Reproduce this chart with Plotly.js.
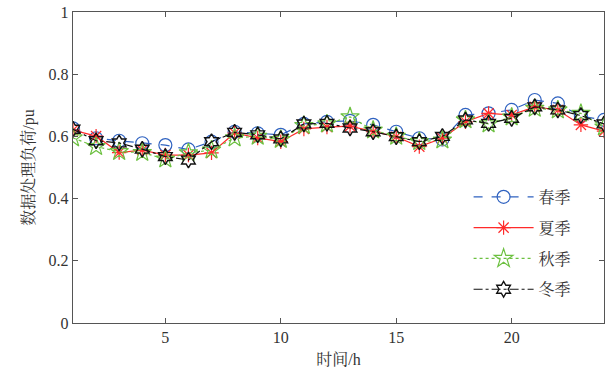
<!DOCTYPE html>
<html><head><meta charset="utf-8">
<script src="https://cdn.plot.ly/plotly-3.0.1.min.js"></script>
<style>html,body{margin:0;padding:0;background:#fff}#chart{width:606px;height:378px}</style>
</head><body><div id="chart"></div>
<script>
const hours = [1,2,3,4,5,6,7,8,9,10,11,12,13,14,15,16,17,18,19,20,21,22,23,24];
const seasonNames = ['春季','夏季','秋季','冬季'];
const spring = [0.626,0.594,0.586,0.578,0.572,0.558,0.583,0.615,0.610,0.605,0.640,0.647,0.650,0.637,0.615,0.594,0.590,0.669,0.674,0.685,0.717,0.706,0.665,0.653];
const summer = [0.620,0.601,0.548,0.556,0.540,0.540,0.547,0.611,0.595,0.583,0.624,0.630,0.633,0.615,0.599,0.567,0.594,0.647,0.674,0.669,0.695,0.685,0.637,0.617];
const autumn = [0.595,0.567,0.551,0.548,0.527,0.547,0.556,0.595,0.600,0.590,0.635,0.640,0.663,0.620,0.600,0.583,0.588,0.653,0.640,0.662,0.690,0.685,0.674,0.630];
const winter = [0.623,0.586,0.579,0.559,0.535,0.524,0.583,0.613,0.605,0.592,0.640,0.642,0.627,0.615,0.599,0.583,0.600,0.653,0.642,0.658,0.695,0.685,0.667,0.640];
const yTicks = [0,0.2,0.4,0.6,0.8,1];
const xTicks = [5,10,15,20];

const FONT = '"Liberation Serif", "Times New Roman", "Noto Serif CJK SC", "Noto Sans CJK SC", serif';

function tr(y, name, color, dash, symbol, size, lw, grp){
  return {x: hours, y: y, name: name, type:'scatter', mode:'lines+markers',
    legendgroup: grp,
    line:{color:color, width:1.2, dash:dash},
    marker:{symbol:symbol, size:size, color:color, line:{color:color, width:lw}}};
}
const data = [
  tr(spring, seasonNames[0], '#2f62c0', 'dash', 'circle-open', 13, 1.2, 'a'),
  tr(summer, seasonNames[1], '#ff2a2a', 'solid', 'asterisk-open', 12, 1.2, 'b'),
  tr(autumn, seasonNames[2], '#6cc040', 'dot', 'star-open', 14, 1.2, 'c'),
  tr(winter, seasonNames[3], '#111111', 'dashdot', 'hexagram-open', 12, 1.4, 'd')
];
const axisCommon = {showgrid:false, zeroline:false, showline:true, linecolor:'#555', linewidth:1.2,
  mirror:'ticks', ticks:'inside', ticklen:5, tickcolor:'#555', tickwidth:1,
  tickfont:{family:FONT, size:16, color:'#333'}};
const layout = {
  width:606, height:378,
  margin:{l:73, r:2, t:12, b:55},
  paper_bgcolor:'#fff', plot_bgcolor:'#fff',
  font:{family:FONT, color:'#333'},
  showlegend:true,
  legend:{x:0.745, y:0.46, xanchor:'left', yanchor:'top', bgcolor:'rgba(0,0,0,0)',
    font:{family:FONT, size:16, color:'#333'}, tracegroupgap:7, itemwidth:60},
  xaxis: Object.assign({}, axisCommon, {range:[1,24], tickvals:xTicks,
    title:{text:'时间/h', font:{family:FONT, size:16, color:'#333'}, standoff:8}}),
  yaxis: Object.assign({}, axisCommon, {range:[0,1], tickvals:yTicks,
    title:{text:'数据处理负荷/pu', font:{family:FONT, size:16, color:'#333'}, standoff:10}})
};
Plotly.newPlot('chart', data, layout, {displayModeBar:false, staticPlot:true});
</script>
</body></html>
